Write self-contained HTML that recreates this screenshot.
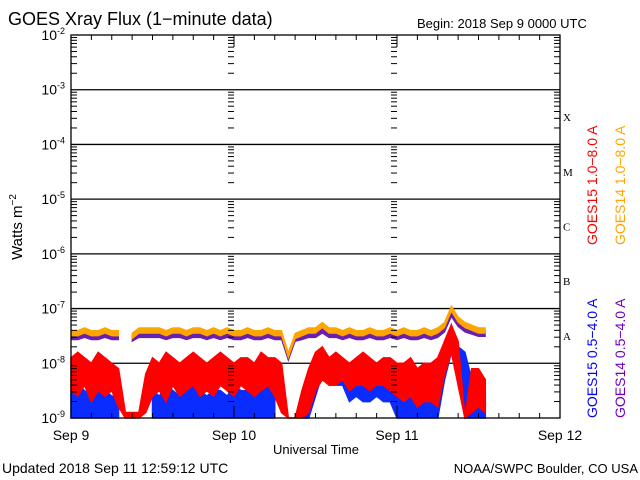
<!DOCTYPE html>
<html><head><meta charset="utf-8"><style>
body{margin:0;background:#fff;width:640px;height:480px;overflow:hidden}
svg{display:block;font-family:"Liberation Sans",sans-serif}
</style></head><body>
<svg id="chart" width="640" height="480">
<text x="8" y="25" font-size="18">GOES Xray Flux (1−minute data)</text>
<text x="417" y="28" font-size="13">Begin:  2018 Sep 9 0000 UTC</text>
<text x="2" y="473" font-size="14">Updated 2018 Sep 11 12:59:12 UTC</text>
<text x="638" y="473" font-size="13" text-anchor="end">NOAA/SWPC Boulder, CO USA</text>
<text x="316" y="454" font-size="13" text-anchor="middle">Universal Time</text>
<text transform="translate(22,227) rotate(-90)" font-size="15" text-anchor="middle">Watts m<tspan dy="-6" font-size="10">−2</tspan></text>
<g id="grid"></g><g id="series"></g><g id="axes"></g>
<text transform="translate(597,245) rotate(-90)" font-size="14" fill="#ff0000">GOES15 1.0−8.0 A</text>
<text transform="translate(625,245) rotate(-90)" font-size="14" fill="#ffa500">GOES14 1.0−8.0 A</text>
<text transform="translate(597,418) rotate(-90)" font-size="14" fill="#0000ff">GOES15 0.5−4.0 A</text>
<text transform="translate(625,418) rotate(-90)" font-size="14" fill="#7000c0">GOES14 0.5−4.0 A</text>
</svg>
<script>
const dayLabels=["Sep 9","Sep 10","Sep 11","Sep 12"];
const decades=[-2,-3,-4,-5,-6,-7,-8,-9];
const classLabels=["X","M","C","B","A"];
const classLogs=[-3.5,-4.5,-5.5,-6.5,-7.5];
// hourly samples (hour 0..61), log10 W/m^2
const redHi=[-7.9,-7.8,-7.9,-8.0,-7.8,-7.9,-8.0,-8.1,-8.9,-8.9,-8.9,-8.2,-7.9,-8.0,-7.8,-7.9,-8.0,-7.9,-7.8,-7.9,-8.0,-7.9,-7.8,-7.9,-8.0,-7.9,-7.9,-8.0,-7.8,-7.9,-7.9,-8.0,-9,-9,-8.5,-8.1,-7.8,-7.7,-7.9,-7.8,-7.9,-8.0,-7.9,-7.8,-7.9,-8.0,-7.9,-7.9,-8.0,-8.0,-7.9,-8.1,-8.0,-8.0,-7.9,-7.6,-7.3,-7.6,-9,-8.1,-8.1,-8.3];
const redLo=[-8.5,-8.6,-8.4,-8.7,-8.5,-8.6,-8.5,-8.8,-9,-9,-9,-8.9,-8.6,-8.5,-8.7,-8.4,-8.6,-8.5,-8.4,-8.6,-8.5,-8.6,-8.4,-8.5,-8.6,-8.4,-8.5,-8.6,-8.5,-8.4,-8.6,-8.9,-9,-9,-9,-8.9,-8.5,-8.3,-8.4,-8.4,-8.3,-8.5,-8.4,-8.4,-8.5,-8.4,-8.4,-8.5,-8.6,-8.7,-8.6,-8.8,-8.7,-8.7,-8.8,-8.2,-7.8,-8.4,-9,-8.9,-8.8,-8.9];
const blueHi=[-8.5,-8.4,-8.5,-8.6,-8.5,-8.5,-8.6,-8.6,null,null,null,null,-8.5,-8.6,-8.4,-8.5,-8.6,-8.5,-8.4,-8.5,-8.6,-8.5,-8.5,-8.6,-8.4,-8.5,-8.5,-8.6,-8.5,-8.4,-8.6,null,null,null,-8.9,-8.5,-8.0,-7.75,-7.9,-7.85,-7.9,-8.1,-8.1,-8.2,-8.1,-8.1,-8.2,-8.1,-8.3,-8.3,-8.4,-8.3,-8.3,-8.4,-8.1,-7.6,-7.3,-7.7,-7.8,-8.3,-8.4,-8.5];
const blueLo=[-9,-9,-9,-9,-9,-9,-9,-9,null,null,null,null,-9,-9,-9,-9,-9,-9,-9,-9,-9,-9,-9,-9,-9,-9,-9,-9,-9,-9,-9,null,null,null,-9,-9,-8.6,-8.2,-8.4,-8.4,-8.4,-8.7,-8.6,-8.7,-8.7,-8.6,-8.7,-8.7,-9,-9,-9,-9,-9,-9,-9,-8.3,-7.8,-8.3,-9,-9,-9,-9];
const orange=[-7.45,-7.45,-7.4,-7.45,-7.45,-7.4,-7.45,-7.45,null,-7.5,-7.4,-7.4,-7.4,-7.4,-7.45,-7.4,-7.4,-7.45,-7.4,-7.4,-7.45,-7.4,-7.45,-7.4,-7.45,-7.45,-7.4,-7.45,-7.45,-7.4,-7.45,-7.45,-7.85,-7.5,-7.45,-7.4,-7.4,-7.3,-7.4,-7.4,-7.45,-7.4,-7.45,-7.45,-7.4,-7.45,-7.45,-7.4,-7.45,-7.4,-7.45,-7.45,-7.4,-7.45,-7.4,-7.3,-7.0,-7.2,-7.3,-7.35,-7.4,-7.4];
const purple=[-7.52,-7.52,-7.48,-7.52,-7.52,-7.48,-7.52,-7.52,null,-7.55,-7.48,-7.48,-7.48,-7.48,-7.52,-7.48,-7.48,-7.52,-7.48,-7.48,-7.52,-7.48,-7.52,-7.48,-7.52,-7.52,-7.48,-7.52,-7.52,-7.48,-7.52,-7.52,-7.9,-7.55,-7.52,-7.48,-7.48,-7.4,-7.48,-7.48,-7.52,-7.48,-7.52,-7.52,-7.48,-7.52,-7.52,-7.48,-7.52,-7.48,-7.52,-7.52,-7.48,-7.52,-7.48,-7.38,-7.1,-7.28,-7.38,-7.42,-7.46,-7.46];

const L=71,R=560,T=35,B=418;
const xS=h=>L+h/72*(R-L);
const yS=v=>T+(-2-v)/7*(B-T);
const NS="http://www.w3.org/2000/svg";
function mk(tag,attrs,parent){const e=document.createElementNS(NS,tag);for(const k in attrs)e.setAttribute(k,attrs[k]);parent.appendChild(e);return e;}
const grid=document.getElementById('grid'),axes=document.getElementById('axes'),ser=document.getElementById('series');

decades.forEach(d=>{
  const y=yS(d);
  if(d<-2&&d>-9){const gl=mk('line',{x1:L,x2:R,y1:y,y2:y,stroke:'#000','stroke-width':1.3},grid);
  
  }
  const t=mk('text',{x:L-6,y:y+5,'font-size':14,'text-anchor':'end'},axes);
  
  
  t.innerHTML='10<tspan dy="-6" font-size="9">'+d+'</tspan>';
  if(d>-9){for(let m=2;m<=9;m++){const yy=yS(d-1+Math.log10(m));
    mk('line',{x1:L,x2:L+6,y1:yy,y2:yy,stroke:'#000'},axes);
    mk('line',{x1:R,x2:R-6,y1:yy,y2:yy,stroke:'#000'},axes);
    [1,2].forEach(k=>{const xd=xS(24*k)-3;mk('line',{x1:xd-3,x2:xd+3,y1:yy,y2:yy,stroke:'#000'},axes);});
  }}
});
classLabels.forEach((c,i)=>{const t=mk('text',{x:563,y:yS(classLogs[i])+4,'font-size':11,'font-family':'Liberation Serif'},axes);
  
  
  t.textContent=c;});
for(let h=0;h<=72;h+=3){const x=xS(h);const len=h%24==0?12:5;
  mk('line',{x1:x,x2:x,y1:T,y2:T+len,stroke:'#000'},axes);
  mk('line',{x1:x,x2:x,y1:B,y2:B-len,stroke:'#000'},axes);}
dayLabels.forEach((s,i)=>{const t=mk('text',{x:xS(24*i),y:440,'font-size':14,'text-anchor':'middle'},axes);
  
  
  t.textContent=s;});
const fr=mk('rect',{x:L,y:T,width:R-L,height:B-T,fill:'none',stroke:'#000','stroke-width':1.3},axes);



function band(hi,lo,color,name,sw){
  let seg=[];
  const flush=()=>{if(seg.length){let pts=seg.map(h=>xS(h)+','+yS(hi[h])).concat(seg.slice().reverse().map(h=>xS(h)+','+yS(lo[h])));
    const p=mk('polygon',{points:pts.join(' '),fill:color,stroke:color,'stroke-width':sw},ser);
    
    }seg=[];};
  hi.forEach((v,h)=>{if(v===null)flush();else seg.push(h);});flush();
}
function line(arr,color,name){
  const lo=arr.map(v=>v===null?null:v-0.05),hi=arr.map(v=>v===null?null:v+0.05);
  band(hi,lo,color,name,1);
}
band(blueHi,blueLo,'#0a2cff','series-goes15-short',1.5);
band(redHi,redLo,'#ff0000','series-goes15-long',1.5);
line(purple,'#6a1fb0','series-goes14-short');
line(orange,'#ffa500','series-goes14-long');
</script>
</body></html>
